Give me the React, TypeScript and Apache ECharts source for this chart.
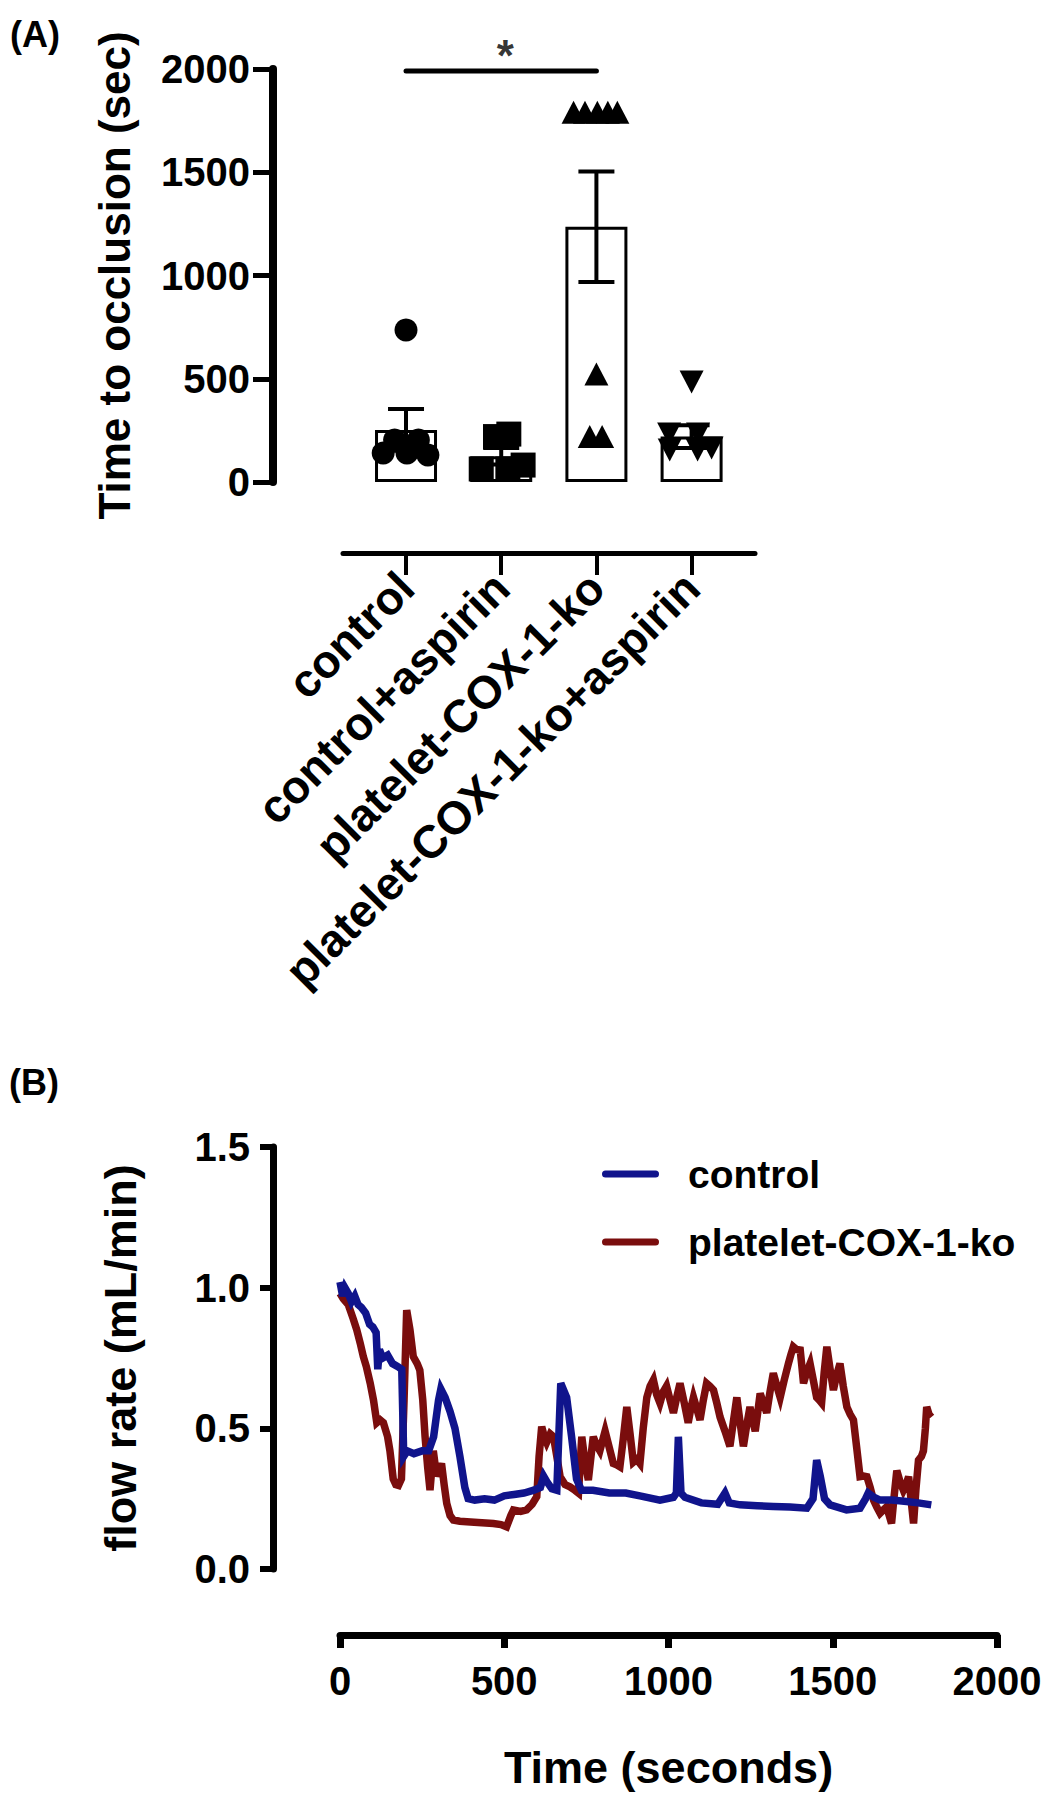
import React, { useEffect, useRef } from 'react';
import * as echarts from 'echarts';

const FONT = "'Liberation Sans', Arial, Helvetica, sans-serif";

// ---------- Panel A data ----------
const groups = ['control', 'control+aspirin', 'platelet-COX-1-ko', 'platelet-COX-1-ko+aspirin'];
const groupMeans = [252, 125, 1236, 220];
const groupSem = [101, 40, 268, 55];

const controlPts = [140, 203, 140, 203, 131, 736];
const controlJitter = [-0.24, -0.12, 0.01, 0.13, 0.23, 0];
const aspirinPts = [220, 232, 63, 63, 82];
const aspirinJitter = [-0.06, 0.08, -0.21, 0.07, 0.23];
const koPts = [1790, 1790, 1790, 1790, 1790, 523, 220, 220];
const koJitter = [-0.24, -0.12, 0.01, 0.12, 0.22, 0, -0.07, 0.06];
const koAspPts = [484, 232, 232, 155, 155, 165];
const koAspJitter = [0, -0.236, 0.068, -0.23, 0.063, 0.21];

const sigPair = [0, 2];
const sigLevel = 1990;
const sigMark = '*';

const occlusionTicks = [0, 500, 1000, 1500, 2000];

// ---------- Panel B data ----------
const timeTicks = [0, 500, 1000, 1500, 2000];
const flowTicks = [0, 0.5, 1.0, 1.5];
const legendNames = ['control', 'platelet-COX-1-ko'];

const controlTrace: number[][] = [
  [0, 1.02], [8, 0.97], [15, 1.0], [25, 0.98], [35, 0.95], [45, 0.97], [55, 0.94], [65, 0.93], [78, 0.91], [90, 0.87],
  [100, 0.86], [110, 0.84], [115, 0.71], [120, 0.78], [130, 0.75], [145, 0.76], [160, 0.73], [175, 0.72], [188, 0.71], [194, 0.40],
  [205, 0.42], [225, 0.41], [250, 0.42], [270, 0.42], [285, 0.47], [300, 0.60], [307, 0.64], [320, 0.61], [335, 0.56], [350, 0.50],
  [365, 0.40], [380, 0.29], [390, 0.25], [410, 0.245], [440, 0.25], [470, 0.245], [500, 0.26], [530, 0.265], [560, 0.27], [590, 0.28],
  [610, 0.29], [620, 0.33], [630, 0.31], [645, 0.285], [660, 0.28], [672, 0.66], [690, 0.61], [705, 0.47], [720, 0.32], [735, 0.28],
  [770, 0.28], [820, 0.27], [870, 0.27], [913, 0.26], [974, 0.245], [1015, 0.255], [1024, 0.27], [1030, 0.47], [1038, 0.27], [1050, 0.255],
  [1100, 0.235], [1150, 0.23], [1172, 0.27], [1185, 0.235], [1218, 0.228], [1270, 0.225], [1319, 0.222], [1370, 0.22], [1421, 0.216], [1440, 0.25],
  [1451, 0.387], [1462, 0.33], [1475, 0.25], [1492, 0.228], [1542, 0.21], [1583, 0.216], [1600, 0.25], [1608, 0.27], [1625, 0.255], [1644, 0.245],
  [1680, 0.245], [1725, 0.24], [1760, 0.235], [1800, 0.228],
];

const koTrace: number[][] = [
  [0, 0.98], [10, 0.96], [25, 0.94], [40, 0.89], [51, 0.85], [62, 0.80], [71, 0.755], [80, 0.72], [92, 0.66], [102, 0.60],
  [112, 0.52], [122, 0.53], [132, 0.52], [145, 0.47], [152, 0.42], [162, 0.32], [170, 0.30], [178, 0.297], [187, 0.32], [195, 0.60],
  [203, 0.92], [213, 0.85], [223, 0.755], [235, 0.73], [243, 0.707], [252, 0.60], [259, 0.47], [267, 0.36], [274, 0.28], [284, 0.42],
  [294, 0.33], [309, 0.375], [317, 0.30], [325, 0.233], [335, 0.19], [345, 0.174], [365, 0.17], [386, 0.168], [420, 0.165], [467, 0.162],
  [490, 0.158], [507, 0.15], [520, 0.19], [528, 0.21], [550, 0.205], [568, 0.21], [585, 0.23], [599, 0.257], [606, 0.40], [614, 0.506],
  [622, 0.47], [629, 0.45], [640, 0.48], [650, 0.47], [660, 0.40], [670, 0.328], [685, 0.30], [700, 0.292], [715, 0.28], [726, 0.27],
  [736, 0.47], [746, 0.38], [756, 0.316], [764, 0.40], [771, 0.47], [781, 0.44], [791, 0.42], [807, 0.49], [820, 0.43], [832, 0.375],
  [842, 0.37], [852, 0.363], [862, 0.46], [873, 0.576], [883, 0.48], [893, 0.38], [903, 0.39], [913, 0.375], [923, 0.50], [934, 0.61],
  [944, 0.65], [954, 0.672], [964, 0.62], [974, 0.59], [984, 0.63], [994, 0.65], [1005, 0.60], [1015, 0.555], [1025, 0.61], [1035, 0.66],
  [1048, 0.59], [1060, 0.52], [1068, 0.57], [1076, 0.61], [1086, 0.57], [1096, 0.53], [1106, 0.60], [1116, 0.66], [1126, 0.65], [1137, 0.636],
  [1147, 0.59], [1157, 0.54], [1172, 0.49], [1187, 0.436], [1197, 0.52], [1208, 0.61], [1218, 0.52], [1228, 0.436], [1238, 0.51], [1248, 0.576],
  [1256, 0.53], [1264, 0.49], [1272, 0.56], [1279, 0.624], [1289, 0.59], [1299, 0.555], [1309, 0.63], [1319, 0.696], [1330, 0.65], [1340, 0.61],
  [1352, 0.67], [1365, 0.73], [1372, 0.76], [1380, 0.79], [1390, 0.78], [1401, 0.778], [1406, 0.72], [1411, 0.66], [1421, 0.70], [1431, 0.73],
  [1441, 0.67], [1451, 0.61], [1459, 0.60], [1466, 0.59], [1474, 0.70], [1482, 0.79], [1492, 0.71], [1502, 0.636], [1512, 0.69], [1522, 0.73],
  [1532, 0.65], [1543, 0.576], [1553, 0.55], [1563, 0.53], [1573, 0.43], [1583, 0.328], [1594, 0.33], [1604, 0.328], [1614, 0.29], [1624, 0.245],
  [1634, 0.22], [1644, 0.198], [1654, 0.21], [1664, 0.221], [1672, 0.19], [1679, 0.162], [1687, 0.26], [1695, 0.35], [1705, 0.31], [1715, 0.28],
  [1723, 0.30], [1731, 0.328], [1738, 0.25], [1746, 0.162], [1753, 0.28], [1761, 0.387], [1770, 0.40], [1776, 0.42], [1782, 0.50], [1786, 0.576],
  [1793, 0.55], [1800, 0.54],
];

const BLUE = '#10148c';
const RED = '#7a0d0d';
const CAPSULE = 'path://M3.5,0 H53.5 A3.5,3.5 0 0 1 53.5,7 H3.5 A3.5,3.5 0 0 1 3.5,0 Z';

function buildOption() {
  const boldText = { fontFamily: FONT, fontWeight: 'bold' as const, color: '#000' };
  const plain = (v: number) => String(v);

  const scatterGroup = (pts: number[], jit: number[], gi: number, symbol: string, size: any, rotate = 0) => ({
    type: 'scatter',
    xAxisIndex: 0,
    yAxisIndex: 0,
    symbol,
    symbolSize: size,
    symbolRotate: rotate,
    itemStyle: { color: '#000', opacity: 1 },
    data: pts.map((v, k) => [gi + jit[k], v]),
    z: 5,
  });

  return {
    animation: false,
    backgroundColor: '#ffffff',
    textStyle: { fontFamily: FONT },
    grid: [
      { left: 343, top: 69, width: 412, height: 413 },
      { left: 340, top: 1147, width: 657, height: 422 },
    ],
    graphic: [
      { type: 'text', left: 10, top: 16, style: { text: '(A)', font: `bold 36px ${FONT}`, fill: '#000' } },
      { type: 'text', left: 9, top: 1064, style: { text: '(B)', font: `bold 36px ${FONT}`, fill: '#000' } },
    ],
    legend: {
      orient: 'vertical',
      left: 597,
      top: 1149,
      data: legendNames,
      icon: CAPSULE,
      itemWidth: 57,
      itemHeight: 7,
      itemGap: 28,
      selectedMode: false,
      textStyle: { ...boldText, fontSize: 39, lineHeight: 40, padding: [0, 0, 0, 24] },
    },
    xAxis: [
      {
        gridIndex: 0,
        type: 'value',
        min: -0.662,
        max: 3.666,
        offset: 71,
        axisLine: { show: true, onZero: false, lineStyle: { color: '#000', width: 5 } },
        axisTick: { show: true, customValues: [0, 1, 2, 3], length: 22, lineStyle: { color: '#000', width: 4 } },
        axisLabel: {
          customValues: [0, 1, 2, 3],
          rotate: 45,
          margin: 27,
          ...boldText,
          fontSize: 46,
          formatter: (v: number) => groups[Math.round(v)] ?? '',
        },
        splitLine: { show: false },
      },
      {
        gridIndex: 1,
        type: 'value',
        min: 0,
        max: 2000,
        offset: 66,
        name: 'Time (seconds)',
        nameLocation: 'middle',
        nameGap: 110,
        nameTextStyle: { ...boldText, fontSize: 45 },
        axisLine: { show: true, onZero: false, lineStyle: { color: '#000', width: 7 } },
        axisTick: { show: true, customValues: timeTicks, length: 13, lineStyle: { color: '#000', width: 7 } },
        axisLabel: { customValues: timeTicks, margin: 26, ...boldText, fontSize: 40, formatter: plain },
        splitLine: { show: false },
      },
    ],
    yAxis: [
      {
        gridIndex: 0,
        type: 'value',
        min: 0,
        max: 2000,
        offset: 70,
        name: 'Time to occlusion (sec)',
        nameLocation: 'middle',
        nameGap: 137,
        nameTextStyle: { ...boldText, fontSize: 44 },
        axisLine: { show: true, onZero: false, lineStyle: { color: '#000', width: 8 } },
        axisTick: { show: true, customValues: occlusionTicks, length: 20, lineStyle: { color: '#000', width: 5 } },
        axisLabel: { customValues: occlusionTicks, margin: 23, ...boldText, fontSize: 40, formatter: plain },
        splitLine: { show: false },
      },
      {
        gridIndex: 1,
        type: 'value',
        min: 0,
        max: 1.5,
        offset: 67,
        name: 'flow rate (mL/min)',
        nameLocation: 'middle',
        nameGap: 130,
        nameTextStyle: { ...boldText, fontSize: 45 },
        axisLine: { show: true, onZero: false, lineStyle: { color: '#000', width: 7 } },
        axisTick: { show: true, customValues: flowTicks, length: 13, lineStyle: { color: '#000', width: 6 } },
        axisLabel: { customValues: flowTicks, margin: 23, ...boldText, fontSize: 40, formatter: (v: number) => v.toFixed(1) },
        splitLine: { show: false },
      },
    ],
    series: [
      {
        type: 'bar',
        xAxisIndex: 0,
        yAxisIndex: 0,
        barWidth: 62,
        data: groupMeans.map((m, i) => [i, m]),
        itemStyle: { color: '#fff', borderColor: '#000', borderWidth: 3 },
        z: 2,
      },
      {
        type: 'custom',
        xAxisIndex: 0,
        yAxisIndex: 0,
        data: groupMeans.map((m, i) => [i, m - groupSem[i], m + groupSem[i]]),
        encode: { x: 0, y: [1, 2] },
        renderItem: (_p: any, api: any) => {
          const x = api.value(0);
          const lo = api.coord([x, api.value(1)]);
          const hi = api.coord([x, api.value(2)]);
          const half = 18;
          const st = { stroke: '#000', lineWidth: 4 };
          return {
            type: 'group',
            children: [
              { type: 'line', shape: { x1: lo[0], y1: lo[1], x2: hi[0], y2: hi[1] }, style: st },
              { type: 'line', shape: { x1: hi[0] - half, y1: hi[1], x2: hi[0] + half, y2: hi[1] }, style: st },
              { type: 'line', shape: { x1: lo[0] - half, y1: lo[1], x2: lo[0] + half, y2: lo[1] }, style: st },
            ],
          };
        },
        z: 3,
      },
      scatterGroup(controlPts, controlJitter, 0, 'circle', 23),
      scatterGroup(aspirinPts, aspirinJitter, 1, 'rect', 25),
      scatterGroup(koPts, koJitter, 2, 'triangle', [24, 23]),
      scatterGroup(koAspPts, koAspJitter, 3, 'triangle', [24, 23], 180),
      {
        type: 'line',
        xAxisIndex: 0,
        yAxisIndex: 0,
        data: sigPair.map((g) => [g, sigLevel]),
        symbol: 'none',
        lineStyle: { color: '#000', width: 5, cap: 'round' },
        z: 4,
      },
      {
        type: 'scatter',
        xAxisIndex: 0,
        yAxisIndex: 0,
        data: [[(sigPair[0] + sigPair[1]) / 2, sigLevel]],
        symbolSize: 1,
        itemStyle: { color: 'transparent' },
        label: {
          show: true,
          position: 'inside',
          formatter: sigMark,
          offset: [4, -16],
          ...boldText,
          fontSize: 44,
        },
        z: 4,
      },
      {
        name: 'platelet-COX-1-ko',
        type: 'line',
        xAxisIndex: 1,
        yAxisIndex: 1,
        data: koTrace,
        symbol: 'none',
        color: RED,
        lineStyle: { color: RED, width: 7.5, join: 'miter' },
        z: 3,
      },
      {
        name: 'control',
        type: 'line',
        xAxisIndex: 1,
        yAxisIndex: 1,
        data: controlTrace,
        symbol: 'none',
        color: BLUE,
        lineStyle: { color: BLUE, width: 7.5, join: 'miter' },
        z: 4,
      },
    ],
  };
}

export default function App() {
  const ref = useRef<HTMLDivElement>(null);
  useEffect(() => {
    if (!ref.current) return;
    const chart = echarts.init(ref.current, null, { renderer: 'svg' });
    chart.setOption(buildOption() as any);
    return () => chart.dispose();
  }, []);
  return (
    <div
      ref={ref}
      style={{ position: 'absolute', left: 0, top: 0, width: 1050, height: 1800, background: '#fff' }}
    />
  );
}
